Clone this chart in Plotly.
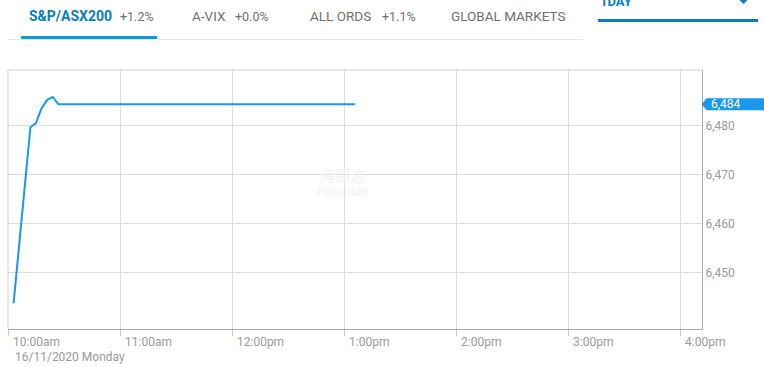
import plotly.graph_objects as go

# ---- data ----
times = ["2020-11-16 10:03", "2020-11-16 10:12", "2020-11-16 10:15", "2020-11-16 10:18",
         "2020-11-16 10:21", "2020-11-16 10:24", "2020-11-16 10:27", "2020-11-16 13:06"]
values = [6443.7, 6479.6, 6480.5, 6483.5, 6485.2, 6485.8, 6484.3, 6484.3]
x_tickvals = ["2020-11-16 10:00", "2020-11-16 11:00", "2020-11-16 12:00", "2020-11-16 13:00",
              "2020-11-16 14:00", "2020-11-16 15:00", "2020-11-16 16:00"]
x_ticktext = ["10:00am", "11:00am", "12:00pm", "1:00pm", "2:00pm", "3:00pm", "4:00pm"]
y_tickvals = [6450, 6460, 6470, 6480]
y_ticktext = ["6,450", "6,460", "6,470", "6,480"]
last_label = "6,484"
date_label = "16/11/2020 Monday"
tabs = [("S&P/ASX200", "+1.2%"), ("A-VIX", "+0.0%"), ("ALL ORDS", "+1.1%"), ("GLOBAL MARKETS", "")]
period_label = "1DAY"

W, H = 764, 367
L, R, T, B = 8, 62, 70, 38
PW, PH = W - L - R, H - T - B

def px(x):
    return (x - L) / PW

def py(y):
    return (H - B - y) / PH

LINE_BLUE = "#1a98ee"
GRID = "#dcdcdc"
AXIS = "#a8a8a8"
LABEL = "#9a9a9a"
FONT = "Roboto"

fig = go.Figure()
fig.add_trace(go.Scatter(x=times, y=values, mode="lines",
                         line=dict(color=LINE_BLUE, width=2), hoverinfo="skip"))

fig.update_layout(
    width=W, height=H, margin=dict(l=L, r=R, t=T, b=B),
    paper_bgcolor="white", plot_bgcolor="white", showlegend=False,
    font=dict(family=FONT, color=LABEL, size=12),
    xaxis=dict(range=["2020-11-16 10:00", "2020-11-16 16:11:47"], type="date",
               tickvals=x_tickvals, ticktext=x_ticktext,
               ticklabelposition="outside right", ticklabelshift=4, ticklabelstandoff=2,
               showgrid=True, gridcolor=GRID, gridwidth=1,
               ticks="outside", ticklen=6, tickcolor="#c8c8c8",
               showline=True, linecolor=AXIS, linewidth=1,
               zeroline=False, tickfont=dict(size=12, color=LABEL, family=FONT)),
    yaxis=dict(range=[6438.44, 6491.3], side="right",
               tickvals=y_tickvals, ticktext=y_ticktext,
               showgrid=True, gridcolor=GRID, gridwidth=1,
               ticks="", showline=True, linecolor=AXIS, linewidth=1,
               zeroline=False, tickfont=dict(size=12, color=LABEL, family=FONT)),
)

shapes = []
# top and left light borders
shapes.append(dict(type="line", xref="paper", yref="paper", x0=0, x1=1, y0=1, y1=1,
                   line=dict(color="#d0d0d0", width=1)))
shapes.append(dict(type="line", xref="paper", yref="paper", x0=0, x1=0, y0=0, y1=1,
                   line=dict(color="#d0d0d0", width=1)))
# header separator line
shapes.append(dict(type="line", xref="paper", yref="paper", x0=px(8), x1=px(583),
                   y0=py(39.5), y1=py(39.5), line=dict(color="#e6e6e6", width=1)))
# active tab underline
shapes.append(dict(type="rect", xref="paper", yref="paper", x0=px(21), x1=px(157),
                   y0=py(39), y1=py(36), fillcolor="#0a9ae0", line=dict(width=0)))
# 1DAY underline
shapes.append(dict(type="rect", xref="paper", yref="paper", x0=px(598), x1=px(758),
                   y0=py(22), y1=py(19), fillcolor="#0b7db8", line=dict(width=0)))
# dropdown caret
shapes.append(dict(type="path", xref="paper", yref="paper",
                   path=f"M {px(739.5)} {py(0)} L {px(747.5)} {py(0)} L {px(743.5)} {py(4)} Z",
                   fillcolor="#0b7db8", line=dict(width=0)))
# last-value badge
last = values[-1]
half = 6.0 / (PH / (6491.3 - 6438.44))
shapes.append(dict(type="path", xref="paper", yref="y",
                   path=(f"M {px(701.7)} {last} L {px(706.5)} {last + half} L {px(770)} {last + half} "
                         f"L {px(770)} {last - half} L {px(706.5)} {last - half} Z"),
                   fillcolor=LINE_BLUE, line=dict(width=0)))
fig.update_layout(shapes=shapes)

ann = []
ann.append(dict(xref="paper", yref="y", x=px(708.5), y=last, text=last_label, showarrow=False,
                xanchor="left", yanchor="middle", font=dict(size=12, color="white", family=FONT)))
ann.append(dict(xref="paper", yref="paper", x=px(13), y=py(357), text=date_label, showarrow=False,
                xanchor="left", yanchor="middle", font=dict(size=12, color=LABEL, family=FONT)))

tab_x = [(26.5, 118), (190, 233), (308, 380), (449, None)]
for i, ((name, chg), (xn, xc)) in enumerate(zip(tabs, tab_x)):
    active = i == 0
    ann.append(dict(xref="paper", yref="paper", x=px(xn), y=py(16), text=(f"<b>{name}</b>" if active else name),
                    showarrow=False, xanchor="left", yanchor="middle",
                    font=dict(size=14 if active else 13.5, color="#0a7dbb" if active else "#707070", family=FONT)))
    if chg:
        ann.append(dict(xref="paper", yref="paper", x=px(xc), y=py(16.5), text=chg, showarrow=False,
                        xanchor="left", yanchor="middle", font=dict(size=12.5, color="#707070", family=FONT)))
ann.append(dict(xref="paper", yref="paper", x=px(598), y=py(1.5), text=f"<b>{period_label}</b>", showarrow=False,
                xanchor="left", yanchor="middle", font=dict(size=13, color="#0b7db8", family=FONT)))
# faint watermark
ann.append(dict(xref="paper", yref="paper", x=px(342), y=py(174), text="海那边", showarrow=False,
                xanchor="center", yanchor="middle",
                font=dict(size=15, color="#f1f1f1", family="Noto Sans CJK SC")))
ann.append(dict(xref="paper", yref="paper", x=px(342), y=py(191), text="Hinabian", showarrow=False,
                xanchor="center", yanchor="middle", font=dict(size=13, color="#f1f1f1", family=FONT)))
fig.update_layout(annotations=ann)

fig.write_html("out.html")
